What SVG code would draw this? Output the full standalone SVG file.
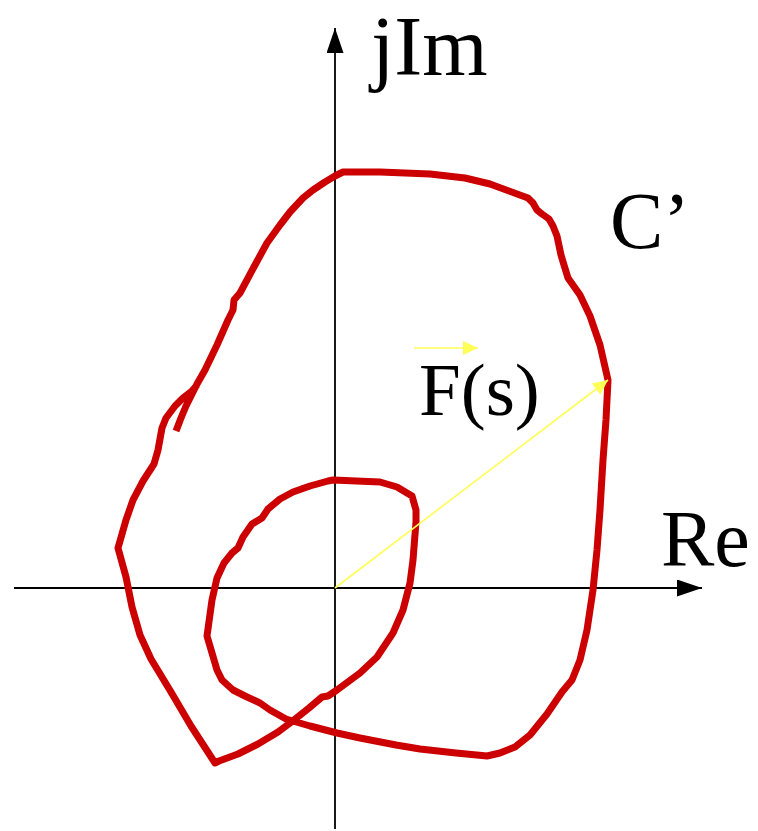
<svg xmlns="http://www.w3.org/2000/svg" width="758" height="831" viewBox="0 0 758 831">
<style>
.axis{stroke:#000;stroke-width:1.8;fill:none}
.curve{stroke:#cc0000;stroke-width:7;fill:none;stroke-linejoin:round;stroke-linecap:butt}
.vec{stroke:#ffff55;stroke-width:1.6;fill:none}
.lbl{font-family:"Liberation Serif","Times New Roman",Times,"DejaVu Serif",serif;fill:#000}
</style>
<defs>
<marker id="axArrow" markerUnits="userSpaceOnUse" markerWidth="26" markerHeight="18" refX="25" refY="8.5" orient="auto">
<path d="M0,0 L25,8.5 L0,17 Z" fill="#000"/>
</marker>
<marker id="yArrow" markerUnits="userSpaceOnUse" markerWidth="16" markerHeight="15" refX="15" refY="7" orient="auto">
<path d="M0,0 L15,7 L0,14 Z" fill="#ffff55"/>
</marker>
</defs>
<g id="axes">
<line class="axis" x1="14" y1="588" x2="702" y2="588" marker-end="url(#axArrow)"/>
<line class="axis" x1="335" y1="829" x2="335" y2="28" marker-end="url(#axArrow)"/>
</g>
<g id="contour">
<path class="curve" d="M176,431 L181,418 L186,406 L192,394 L197,384 L205,370 L217,345 L228,320 L233,310 L234,300 L240,293 L255,265 L267,243 L280,225 L290,212 L303,198 L313,190 L325,182 L335,176 L343,172 L380,172 L430,174 L465,178 L490,184 L528,198 L533,203 L537,210 L542,214 L549,219 L553,226 L557,236 L561,255 L564,265 L568,278 L580,295 L590,316 L600,345 L608,380 L606,420 L603,460 L600,510 L597,550 L593,590 L587,630 L580,660 L572,680 L562,692 L547,714 L530,735 L515,747 L500,753 L487,756 L456,753 L420,749 L396,745 L360,738 L337,733 L310,726 L286,719 L270,710 L260,703 L245,696 L233,690 L222,680 L217,670 L207,636 L212,600 L217,578 L224,563 L232,553 L238,548 L243,537 L252,524 L262,518 L268,509 L280,499 L293,492 L310,486 L328,481 L333,480 L380,482 L397,487 L412,496 L416,510 L416,522 L413,560 L410,583 L403,610 L393,633 L377,657 L360,673 L337,690 L328,696 L322,697 L309,708 L294,720 L278,732 L258,744 L238,754 L219,761 L215,763 L191,726 L171,692 L151,659 L140,635 L132,607 L126,577 L118,548 L126,520 L133,500 L143,481 L154,464 L158,450 L162,428 L166,418 L175,406 L183,398 L192,391 L197,385"/>
</g>
<g id="vector">
<line class="vec" x1="335" y1="588" x2="608" y2="380" marker-end="url(#yArrow)"/>
<line class="vec" x1="414" y1="348" x2="478" y2="348" marker-end="url(#yArrow)"/>
</g>
<g id="labels">
<text class="lbl" x="371" y="75" font-size="84">jIm</text>
<text class="lbl" x="661" y="566" font-size="80">Re</text>
<text class="lbl" x="610" y="248" font-size="80">C’</text>
<text class="lbl" x="419" y="415" font-size="75">F(s)</text>
</g>
</svg>
